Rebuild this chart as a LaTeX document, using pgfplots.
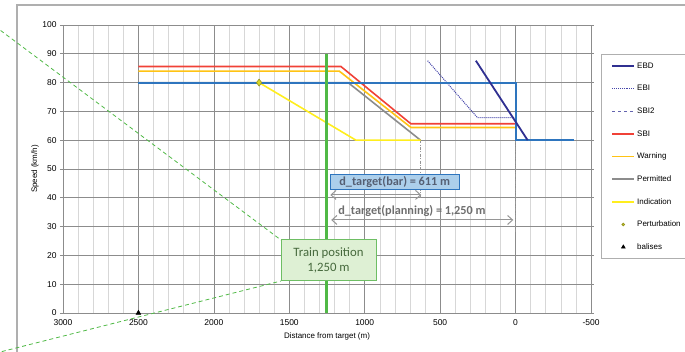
\documentclass[border=0pt]{standalone}
\usepackage{fontspec}
\setmainfont{Liberation Sans}
\newfontfamily\calfont{Carlito}
\usepackage{pgfplots}
\pgfplotsset{compat=1.18}
\usetikzlibrary{arrows.meta}
\definecolor{mrspblue}{RGB}{46,117,190}
\definecolor{ebd}{RGB}{48,48,145}
\definecolor{ebi}{RGB}{70,70,170}
\definecolor{sbitwo}{RGB}{100,100,175}
\definecolor{sbi}{RGB}{240,65,55}
\definecolor{warn}{RGB}{255,195,20}
\definecolor{permitted}{RGB}{140,140,140}
\definecolor{indic}{RGB}{255,238,30}
\definecolor{traingreen}{RGB}{80,185,70}
\definecolor{gridmajor}{RGB}{140,140,140}
\definecolor{gridminor}{RGB}{215,215,215}
\definecolor{framegray}{RGB}{175,175,175}
\definecolor{trainfill}{RGB}{222,240,212}
\definecolor{trainborder}{RGB}{110,190,100}
\definecolor{traintext}{RGB}{70,105,60}
\definecolor{barfill}{RGB}{172,207,235}
\definecolor{bartext}{RGB}{85,95,115}
\definecolor{arrowgray}{RGB}{150,150,150}
\definecolor{pertfill}{RGB}{215,215,40}
\definecolor{pertedge}{RGB}{150,150,30}
\begin{document}
\begin{tikzpicture}
\useasboundingbox (0,0) rectangle (685bp,352bp);
\draw[framegray, line width=1.2bp] (17bp,-20bp) -- (17bp,347bp) -- (720bp,347bp);
\begin{axis}[
  at={(63bp,39bp)}, anchor=south west, scale only axis,
  width=528bp, height=288bp,
  x dir=reverse,
  xmin=-500, xmax=3000, ymin=0, ymax=100,
  xtick={-500,0,500,1000,1500,2000,2500,3000},
  ytick={0,10,...,100},
  minor x tick num=4,
  grid=both,
  axis on top=false,
  major grid style={gridmajor, line width=0.7bp},
  minor grid style={gridminor, line width=0.5bp},
  axis line style={gridmajor, line width=0.7bp},
  tick align=outside, major tick length=3bp, minor tick length=0pt,
  xtick style={draw=none}, ytick style={gridmajor, line width=0.7bp},
  tick label style={font=\fontsize{8.5}{9}\selectfont},
  /pgf/number format/assume math mode=true,
  /pgf/number format/set thousands separator={},
  xlabel={Distance from target (m)},
  ylabel={Speed (km/h)},
  label style={font=\fontsize{8}{9}\selectfont},
  xlabel style={at={(axis description cs:0.5,-0.083)}, anchor=center},
  ylabel style={at={(axis description cs:-0.053,0.5)}, anchor=center},
  legend image code/.code={\draw[mark repeat=2,mark phase=2,#1] plot coordinates {(0bp,0bp) (11bp,0bp) (22bp,0bp)};},
  legend cell align=left,
  legend style={at={(axis description cs:1.019,0.899)}, anchor=north west,
    draw=framegray, line width=0.8bp, font=\fontsize{8}{9}\selectfont,
    inner xsep=10bp, inner ysep=0.5bp, row sep=0pt, column sep=1bp,
    nodes={minimum height=22.6bp, inner xsep=1bp, inner ysep=0pt, text width=43bp}},
]
% dash-dot verticals
\addplot[forget plot, arrowgray, dash pattern=on 3bp off 1.5bp on 0.8bp off 1.5bp, line width=0.9bp] coordinates {(630,60) (630,40)};
\addplot[forget plot, arrowgray, dash pattern=on 3bp off 1.5bp on 0.8bp off 1.5bp, line width=0.9bp] coordinates {(0,60) (0,28)};
% Permitted
\addplot[forget plot, permitted, line width=1.6bp] coordinates {(2500,80) (1110,80) (630,60)};
% Indication
\addplot[forget plot, indic, line width=1.6bp] coordinates {(1700,80) (1058,60) (630,60)};
% Warning
\addplot[forget plot, warn, line width=1.6bp] coordinates {(2500,84) (1169,84) (693,64.4) (0,64.4)};
% SBI
\addplot[forget plot, sbi, line width=1.6bp] coordinates {(2500,85.6) (1158,85.6) (694,65.7) (0,65.7)};
% EBI
\addplot[forget plot, ebi, densely dotted, line width=1bp] coordinates {(583,87.6) (252,67.8) (10,67.8)};
% MRSP blue
\addplot[forget plot, draw=mrspblue, line width=2.1bp, line join=miter] coordinates {(2500,80) (0,80) (0,60) (-385,60)};
% EBD
\addplot[forget plot, ebd, line width=1.8bp] coordinates {(263,87.6) (-80,60)};
% Train position line
\addplot[forget plot, traingreen, line width=3bp] coordinates {(1250,0) (1250,90)};
% Perturbation
\addplot[forget plot, only marks, mark=diamond*, mark size=3.5bp, mark options={fill=pertfill, draw=pertedge, line width=0.6bp}] coordinates {(1700,80)};
% balise
\addplot[forget plot, only marks, mark=triangle*, mark size=2.8bp, black] coordinates {(2500,0)};
% legend
\addlegendimage{ebd, line width=1.8bp}
\addlegendentry{EBD}
\addlegendimage{ebi, densely dotted, line width=0.9bp}
\addlegendentry{EBI}
\addlegendimage{sbitwo, dashed, line width=0.9bp}
\addlegendentry{SBI2}
\addlegendimage{sbi, line width=1.6bp}
\addlegendentry{SBI}
\addlegendimage{warn, line width=1.6bp}
\addlegendentry{Warning}
\addlegendimage{permitted, line width=1.6bp}
\addlegendentry{Permitted}
\addlegendimage{indic, line width=1.6bp}
\addlegendentry{Indication}
\addlegendimage{only marks, mark=*, mark size=1.3bp, mark options={fill=pertfill, draw=pertedge}}
\addlegendentry{Perturbation}
\addlegendimage{only marks, mark=triangle*, mark size=2bp, black}
\addlegendentry{balises}
% annotations
\node[draw=mrspblue, fill=barfill, line width=1bp, minimum width=129bp, minimum height=15bp, inner sep=0pt,
  font=\calfont\bfseries\fontsize{12.3}{13}\selectfont, text=bartext] at (axis cs:801,45.6) {d\_target(bar) = 611 m};
\draw[arrowgray, line width=1bp, {Straight Barb[length=5bp,width=9bp]}-{Straight Barb[length=5bp,width=9bp]}] (axis cs:1228,41) -- (axis cs:625,41);
\node[font=\calfont\bfseries\fontsize{12.3}{13}\selectfont, text={rgb,255:red,110;green,110;blue,110}] at (axis cs:687,35.4) {d\_target(planning) = 1,250 m};
\draw[arrowgray, line width=1bp, {Straight Barb[length=5bp,width=9bp]}-{Straight Barb[length=5bp,width=9bp]}] (axis cs:1222,32.3) -- (axis cs:15,32.3);
\end{axis}
\draw[traingreen, line width=0.8bp, dash pattern=on 4bp off 3bp] (-5bp,325.7bp) -- (281bp,112bp);
\draw[traingreen, line width=0.8bp, dash pattern=on 4bp off 3bp] (-5bp,-1.3bp) -- (281bp,71bp);
\node[draw=trainborder, fill=trainfill, line width=1bp, minimum width=95bp, minimum height=41bp, inner sep=0pt,
  align=center, font=\calfont\fontsize{12.8}{14.5}\selectfont, text=traintext] at (328.5bp,91.5bp) {Train position\\1,250 m};
\end{tikzpicture}
\end{document}
